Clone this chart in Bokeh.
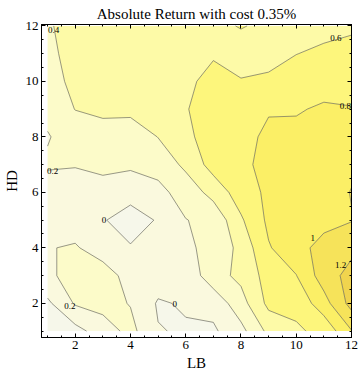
import numpy as np
from bokeh.plotting import figure
from bokeh.models import Range1d, LinearAxis, FixedTicker
from bokeh.embed import file_html
from bokeh.resources import INLINE
from bokeh.core.properties import value

# grid axes
LB = [1, 2, 3, 4, 5, 6, 7, 8, 9, 10, 11, 12]
HD = [1, 2, 3, 4, 5, 6, 7, 8, 9, 10, 11, 12]

# absolute return (%) per HD row, over LB = 1..12
hd01 = [-0.15, -0.07, 0.10, 0.26, 0.01, -0.02, -0.03, 0.14, 0.45, 0.573, 0.65, 0.99]
hd02 = [-0.04, 0.22, 0.27, 0.19, -0.02, 0.02, 0.065, 0.32, 0.65, 0.65, 0.92, 1.27]
hd03 = [0.17, 0.26, 0.30, 0.12, 0.10, 0.06, 0.32, 0.45, 0.68, 0.795, 1.10, 1.27]
hd04 = [0.19, 0.22, 0.10, 0.01, 0.08, 0.17, 0.25, 0.458, 0.785, 0.92, 1.08, 1.15]
hd05 = [0.12, 0.10, 0.01, -0.06, 0.011, 0.195, 0.247, 0.573, 0.84, 0.92, 0.93, 0.99]
hd06 = [0.12, 0.12, 0.12, 0.05, 0.15, 0.275, 0.473, 0.70, 0.84, 0.92, 0.88, 1.01]
hd07 = [0.22, 0.21, 0.25, 0.24, 0.264, 0.445, 0.68, 0.74, 0.88, 0.95, 0.93, 0.95]
hd08 = [0.19, 0.27, 0.30, 0.26, 0.405, 0.562, 0.68, 0.72, 0.85, 0.86, 0.90, 0.92]
hd09 = [0.24, 0.405, 0.45, 0.46, 0.50, 0.59, 0.68, 0.70, 0.78, 0.78, 0.83, 0.81]
hd10 = [0.32, 0.45, 0.48, 0.49, 0.50, 0.56, 0.66, 0.62, 0.63, 0.68, 0.71, 0.72]
hd11 = [0.34, 0.49, 0.50, 0.50, 0.51, 0.53, 0.58, 0.45, 0.54, 0.597, 0.63, 0.66]
hd12 = [0.38, 0.47, 0.46, 0.47, 0.48, 0.50, 0.52, 0.62, 0.53, 0.55, 0.55, 0.57]

levels = [-0.2, 0.0, 0.2, 0.4, 0.6, 0.8, 1.0, 1.2, 1.4]
band_colors = ["#F6F7EA", "#FAF9DE", "#FCFBC9", "#FDFAA7", "#FDF67C",
               "#FBEF66", "#F6E35A", "#F0D44E"]

# contour labels
label_text = ["0.4", "0.6", "0.8", "0.2", "0", "0.2", "0", "1", "1.2"]
label_lb = [1.22, 11.43, 11.78, 1.18, 3.04, 1.81, 5.6, 10.6, 11.61]
label_hd = [11.85, 11.56, 9.1, 6.76, 4.99, 1.92, 1.96, 4.34, 3.4]

# tick positions
major_ticks = [2, 4, 6, 8, 10, 12]
minor_ticks = [1.0, 1.5, 2.5, 3.0, 3.5, 4.5, 5.0, 5.5, 6.5, 7.0, 7.5,
               8.5, 9.0, 9.5, 10.5, 11.0, 11.5]

Z = np.array([hd01, hd02, hd03, hd04, hd05, hd06, hd07, hd08, hd09, hd10, hd11, hd12])

SERIF = "Liberation Serif"

p = figure(frame_width=310, frame_height=313,
           x_range=Range1d(0.78, 12.0), y_range=Range1d(0.77, 12.05),
           output_backend="svg", toolbar_location=None,
           title="Absolute Return with cost 0.35%",
           min_border_left=0, min_border_right=8, min_border_top=0, min_border_bottom=0)
p.grid.visible = False
p.background_fill_color = "white"
p.border_fill_color = "white"
p.outline_line_color = "black"
p.outline_line_width = 1

p.title.align = "center"
p.title.text_font = SERIF
p.title.text_font_size = "15px"
p.title.text_font_style = "normal"
p.title.text_color = "black"
p.title.standoff = 6

p.contour(x=LB, y=HD, z=Z, levels=levels, fill_color=band_colors,
          line_color="#55554a", line_alpha=0.6, line_width=1)

p.text(x=label_lb, y=label_hd, text=label_text, text_font=value(SERIF),
       text_font_size="9px", text_align="center", text_baseline="middle",
       text_color="black")


def base(ax):
    ax.major_tick_out = 0
    ax.minor_tick_out = 0
    ax.axis_line_color = "black"
    ax.major_tick_line_color = "black"
    ax.minor_tick_line_color = "black"


def labelled(ax, label):
    base(ax)
    ax.ticker = FixedTicker(ticks=major_ticks, minor_ticks=major_ticks + minor_ticks)
    ax.major_tick_in = 4
    ax.minor_tick_in = 2
    ax.axis_label = label
    ax.major_label_text_font = SERIF
    ax.major_label_text_font_size = "13px"
    ax.major_label_text_color = "black"
    ax.major_label_standoff = 3
    ax.axis_label_text_font = SERIF
    ax.axis_label_text_font_size = "15px"
    ax.axis_label_text_font_style = "normal"
    ax.axis_label_text_color = "black"
    ax.axis_label_standoff = 3


def unlabelled(ticks, length):
    ax = LinearAxis(ticker=FixedTicker(ticks=[], minor_ticks=ticks))
    base(ax)
    ax.minor_tick_in = length
    ax.major_tick_in = 0
    ax.major_label_standoff = 0
    ax.axis_label_standoff = 0
    return ax


labelled(p.xaxis[0], "LB")
labelled(p.yaxis[0], "HD")

p.add_layout(unlabelled(major_ticks, 4), "above")
p.add_layout(unlabelled(minor_ticks, 2), "above")
p.add_layout(unlabelled(major_ticks, 4), "right")
p.add_layout(unlabelled(minor_ticks, 2), "right")

open("out.html", "w").write(file_html(p, INLINE))
